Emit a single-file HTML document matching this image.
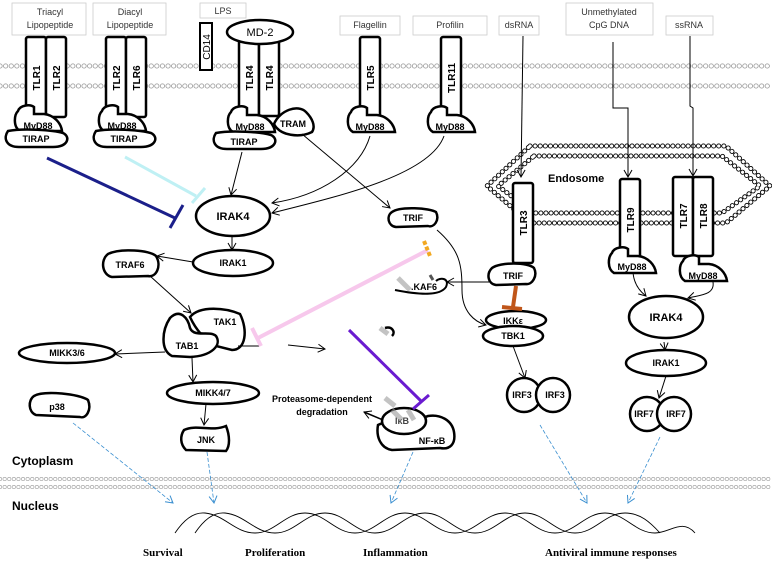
<!DOCTYPE html>
<html><head><meta charset="utf-8"><style>
html,body{margin:0;padding:0;background:#fff;}
svg{display:block;font-family:"Liberation Sans",sans-serif;}
.b{fill:#fff;stroke:#000;stroke-width:2.5;}
.t{font-size:9px;font-weight:bold;text-anchor:middle;}
.tl{font-size:10px;font-weight:bold;text-anchor:middle;}
.lg{font-size:9px;text-anchor:middle;fill:#333;}
.bx{fill:#fff;stroke:#ccc;stroke-width:0.8;}
.ln{fill:none;stroke:#000;stroke-width:1;}
.bl{fill:none;stroke:#3a8fd0;stroke-width:0.8;stroke-dasharray:4 2;}
</style></head><body>
<svg width="772" height="561" viewBox="0 0 772 561">
<defs>
<marker id="a" markerWidth="10" markerHeight="10" refX="8" refY="5" orient="auto" markerUnits="userSpaceOnUse"><path d="M1,1 L8,5 L1,9" fill="none" stroke="#000" stroke-width="1"/></marker>
<marker id="ab" markerWidth="10" markerHeight="10" refX="8" refY="5" orient="auto" markerUnits="userSpaceOnUse"><path d="M1,1 L8,5 L1,9" fill="none" stroke="#3a8fd0" stroke-width="1"/></marker>
<path id="myd" d="M8,28 C1,24 2,12 6,8 C8,2 18,1 22,4 L22,11 L32,11 C42,12 49,20 50,28 Z"/>
<path id="tir" d="M5,2 C20,-1 50,1 60,4 C68,8 65,18 50,18 L16,18 C3,18 0,9 5,2 Z"/>
</defs>

<!-- plasma membrane -->
<g stroke="#999" fill="none">
<line x1="0" y1="66" x2="772" y2="66" stroke-width="5" stroke-dasharray="0.1 5.5" stroke-linecap="round"/>
<line x1="0" y1="66" x2="772" y2="66" stroke="#fff" stroke-width="3.4" stroke-dasharray="0.1 5.5" stroke-linecap="round"/>
<line x1="0" y1="86" x2="772" y2="86" stroke-width="5" stroke-dasharray="0.1 5.5" stroke-linecap="round"/>
<line x1="0" y1="86" x2="772" y2="86" stroke="#fff" stroke-width="3.4" stroke-dasharray="0.1 5.5" stroke-linecap="round"/>
</g>
<!-- nuclear membrane -->
<g stroke="#aaa" fill="none">
<line x1="0" y1="479" x2="772" y2="479" stroke-width="4" stroke-dasharray="0.1 4.5" stroke-linecap="round"/>
<line x1="0" y1="479" x2="772" y2="479" stroke="#fff" stroke-width="2.6" stroke-dasharray="0.1 4.5" stroke-linecap="round"/>
<line x1="0" y1="487" x2="772" y2="487" stroke-width="4" stroke-dasharray="0.1 4.5" stroke-linecap="round"/>
<line x1="0" y1="487" x2="772" y2="487" stroke="#fff" stroke-width="2.6" stroke-dasharray="0.1 4.5" stroke-linecap="round"/>
</g>
<!-- endosome -->
<g fill="none" stroke-linecap="round">
<path d="M530,146 L726,146 L770,186 L726,223 L530,223 L487,186 Z" stroke="#000" stroke-width="5" stroke-dasharray="0.1 5"/>
<path d="M530,146 L726,146 L770,186 L726,223 L530,223 L487,186 Z" stroke="#fff" stroke-width="3.2" stroke-dasharray="0.1 5"/>
<path d="M534,156 L722,156 L760,186 L722,213 L534,213 L498,186 Z" stroke="#000" stroke-width="5" stroke-dasharray="0.1 5"/>
<path d="M534,156 L722,156 L760,186 L722,213 L534,213 L498,186 Z" stroke="#fff" stroke-width="3.2" stroke-dasharray="0.1 5"/>
</g>
<text x="548" y="182" style="font-size:11px;font-weight:bold">Endosome</text>

<!-- ligand boxes -->
<rect class="bx" x="12" y="3" width="74" height="32"/><text class="lg" x="50" y="15">Triacyl</text><text class="lg" x="50" y="28">Lipopeptide</text>
<rect class="bx" x="93" y="3" width="73" height="32"/><text class="lg" x="130" y="15">Diacyl</text><text class="lg" x="130" y="28">Lipopeptide</text>
<rect class="bx" x="200" y="3" width="46" height="15"/><text class="lg" x="223" y="14">LPS</text>
<rect class="bx" x="340" y="16" width="60" height="19"/><text class="lg" x="370" y="28">Flagellin</text>
<rect class="bx" x="413" y="16" width="74" height="19"/><text class="lg" x="450" y="28">Profilin</text>
<rect class="bx" x="499" y="16" width="40" height="19"/><text class="lg" x="519" y="28">dsRNA</text>
<rect class="bx" x="566" y="3" width="87" height="32"/><text class="lg" x="609" y="15">Unmethylated</text><text class="lg" x="609" y="28">CpG DNA</text>
<rect class="bx" x="666" y="16" width="47" height="19"/><text class="lg" x="689" y="28">ssRNA</text>

<!-- TLR1/2 -->
<rect class="b" x="26" y="37" width="20" height="80" rx="2"/><rect class="b" x="46" y="37" width="20" height="80" rx="2"/>
<text class="tl" transform="translate(40,78) rotate(-90)">TLR1</text><text class="tl" transform="translate(60,78) rotate(-90)">TLR2</text>
<use href="#myd" class="b" transform="translate(12,103)"/><text class="t" x="38" y="129">MyD88</text>
<use href="#tir" class="b" transform="translate(3,129)"/><text class="t" x="36" y="142">TIRAP</text>
<!-- TLR2/6 -->
<rect class="b" x="106" y="37" width="20" height="80" rx="2"/><rect class="b" x="126" y="37" width="20" height="80" rx="2"/>
<text class="tl" transform="translate(120,78) rotate(-90)">TLR2</text><text class="tl" transform="translate(140,78) rotate(-90)">TLR6</text>
<use href="#myd" class="b" transform="translate(96,103)"/><text class="t" x="122" y="129">MyD88</text>
<use href="#tir" class="b" transform="translate(91,129)"/><text class="t" x="124" y="142">TIRAP</text>
<!-- TLR4 -->
<rect class="b" x="200" y="23" width="12" height="47" style="stroke-width:2"/><text class="lg" transform="translate(210,47) rotate(-90)" style="font-size:10px;fill:#000">CD14</text>
<rect class="b" x="239" y="38" width="20" height="78" rx="2"/><rect class="b" x="259" y="38" width="20" height="78" rx="2"/>
<ellipse class="b" cx="260" cy="32" rx="33" ry="12"/><text x="260" y="36" style="font-size:11px;text-anchor:middle">MD-2</text>
<text class="tl" transform="translate(253,78) rotate(-90)">TLR4</text><text class="tl" transform="translate(273,78) rotate(-90)">TLR4</text>
<use href="#myd" class="b" transform="translate(225,104)"/><text class="t" x="250" y="130">MyD88</text>
<path class="b" d="M274,124 C280,110 298,104 306,112 C312,118 316,126 312,132 C300,138 280,136 274,124 Z"/><text class="t" x="293" y="127">TRAM</text>
<use href="#tir" class="b" transform="translate(211,131)"/><text class="t" x="244" y="145">TIRAP</text>
<!-- TLR5 -->
<rect class="b" x="360" y="37" width="20" height="80" rx="2"/><text class="tl" transform="translate(374,78) rotate(-90)">TLR5</text>
<use href="#myd" class="b" transform="translate(345,104)"/><text class="t" x="370" y="130">MyD88</text>
<!-- TLR11 -->
<rect class="b" x="441" y="37" width="20" height="80" rx="2"/><text class="tl" transform="translate(455,78) rotate(-90)">TLR11</text>
<use href="#myd" class="b" transform="translate(425,104)"/><text class="t" x="450" y="130">MyD88</text>

<!-- ligand arrows to endosome -->
<path class="ln" d="M523,36 L521,177" marker-end="url(#a)"/>
<path class="ln" d="M613,42 L613,108 L628,108 L628,177" marker-end="url(#a)"/>
<path class="ln" d="M690,36 L690,106 L693,108 L693,176" marker-end="url(#a)"/>

<!-- TLR3 -->
<rect class="b" x="513" y="183" width="20" height="80" rx="2"/><text class="tl" transform="translate(527,223) rotate(-90)">TLR3</text>
<path class="b" d="M492,268 C500,262 528,262 534,268 C538,276 532,285 526,284 L496,285 C488,284 486,274 492,268 Z"/><text class="t" x="513" y="279">TRIF</text>
<!-- TLR9 -->
<rect class="b" x="620" y="179" width="20" height="81" rx="2"/><text class="tl" transform="translate(634,220) rotate(-90)">TLR9</text>
<use href="#myd" class="b" transform="translate(606,245)"/><text class="t" x="632" y="270">MyD88</text>
<!-- TLR7/8 -->
<rect class="b" x="673" y="177" width="20" height="79" rx="2"/><rect class="b" x="693" y="177" width="20" height="79" rx="2"/>
<text class="tl" transform="translate(687,216) rotate(-90)">TLR7</text><text class="tl" transform="translate(707,216) rotate(-90)">TLR8</text>
<use href="#myd" class="b" transform="translate(677,253)"/><text class="t" x="703" y="279">MyD88</text>

<!-- left pathway -->
<ellipse class="b" cx="233" cy="216" rx="37" ry="20"/><text class="tl" x="233" y="220" style="font-size:11px">IRAK4</text>
<ellipse class="b" cx="233" cy="263" rx="40" ry="13"/><text class="t" x="233" y="266">IRAK1</text>
<path class="b" d="M108,254 C120,248 150,250 156,256 C162,266 156,278 148,276 L112,277 C102,275 100,260 108,254 Z"/><text class="t" x="130" y="268">TRAF6</text>
<path class="b" d="M190,317 C200,305 226,308 240,314 C248,330 246,350 232,350 L216,346 C205,340 196,330 190,317 Z"/>
<path class="b" d="M170,318 C180,308 188,318 190,328 C194,338 210,330 216,336 C222,345 212,356 190,357 L172,356 C160,350 162,330 170,318 Z"/>
<text class="t" x="225" y="325">TAK1</text><text class="t" x="187" y="349">TAB1</text>
<ellipse class="b" cx="67" cy="353" rx="48" ry="10"/><text class="t" x="67" y="356">MIKK3/6</text>
<ellipse class="b" cx="213" cy="393" rx="46" ry="11"/><text class="t" x="213" y="396">MIKK4/7</text>
<path class="b" d="M34,396 C44,390 80,394 88,400 C92,410 86,419 80,417 L36,415 C28,412 28,400 34,396 Z"/><text class="t" x="57" y="410">p38</text>
<path class="b" d="M184,430 C196,424 212,432 226,426 C230,436 230,446 226,451 L186,450 C180,444 180,436 184,430 Z"/><text class="t" x="206" y="443">JNK</text>
<path class="b" d="M392,212 C400,206 430,208 436,212 C440,220 434,228 428,226 L396,227 C388,226 386,216 392,212 Z"/><text class="t" x="413" y="221">TRIF</text>
<path class="b" d="M395,290 C420,295 440,296 446,287 C450,278 440,277 436,281" style="stroke-width:2"/><text class="t" x="424" y="290">.KAF6</text>
<path d="M398,278 L410,290" stroke="#888" stroke-width="5" opacity="0.5"/>
<path d="M430,275 L433,280" stroke="#555" stroke-width="3"/>
<path d="M385,328 C392,326 396,332 392,336" fill="none" stroke="#000" stroke-width="2.5"/>
<path d="M380,328 L388,334" stroke="#888" stroke-width="5" opacity="0.5"/>
<!-- NF-kB -->
<path class="b" d="M378,425 C392,418 420,420 428,416 C440,414 452,420 454,432 C456,444 450,450 440,448 L392,450 C380,448 376,436 378,425 Z"/>
<ellipse class="b" cx="404" cy="421" rx="22" ry="13"/>
<text class="t" x="402" y="424" style="fill:#444">IκB</text>
<path d="M392,410 L402,420 M408,410 L414,420" stroke="#999" stroke-width="5" opacity="0.6"/>
<text class="t" x="432" y="444">NF-κB</text>
<text x="322" y="402" style="font-size:9px;font-weight:bold;text-anchor:middle">Proteasome-dependent</text>
<text x="322" y="415" style="font-size:9px;font-weight:bold;text-anchor:middle">degradation</text>
<path d="M385,398 L395,406" stroke="#888" stroke-width="5" opacity="0.5"/>
<path d="M383,420 L364,412" fill="none" stroke="#000" stroke-width="1.5" marker-end="url(#a)"/>

<!-- right pathway -->
<ellipse class="b" cx="516" cy="320" rx="30" ry="9"/><text class="t" x="513" y="324">IKKε</text>
<ellipse class="b" cx="513" cy="336" rx="30" ry="10"/><text class="t" x="513" y="339">TBK1</text>
<circle class="b" cx="524" cy="395" r="17"/><circle class="b" cx="553" cy="395" r="17"/>
<text class="t" x="522" y="398">IRF3</text><text class="t" x="555" y="398">IRF3</text>
<ellipse class="b" cx="666" cy="317" rx="37" ry="21"/><text class="tl" x="666" y="321" style="font-size:11px">IRAK4</text>
<ellipse class="b" cx="666" cy="363" rx="40" ry="13"/><text class="t" x="666" y="366">IRAK1</text>
<circle class="b" cx="647" cy="414" r="17"/><circle class="b" cx="674" cy="414" r="17"/>
<text class="t" x="644" y="417">IRF7</text><text class="t" x="676" y="417">IRF7</text>

<!-- black arrows -->
<path class="ln" d="M242,152 L231,195" marker-end="url(#a)"/>
<path class="ln" d="M370,136 C360,170 320,196 272,203" marker-end="url(#a)"/>
<path class="ln" d="M444,136 C430,175 340,196 272,213" marker-end="url(#a)"/>
<path class="ln" d="M302,134 L390,208" marker-end="url(#a)"/>
<path class="ln" d="M232,236 L232,250" marker-end="url(#a)"/>
<path class="ln" d="M193,262 L157,256" marker-end="url(#a)"/>
<path class="ln" d="M150,276 L191,313" marker-end="url(#a)"/>
<path class="ln" d="M165,352 L115,354" marker-end="url(#a)"/>
<path class="ln" d="M192,358 L193,382" marker-end="url(#a)"/>
<path class="ln" d="M206,404 L204,425" marker-end="url(#a)"/>
<path class="ln" d="M238,346 L260,346"/>
<path class="ln" d="M288,345 L325,349" marker-end="url(#a)"/>
<path class="ln" d="M437,230 C460,250 462,265 462,290 C462,312 475,322 486,325" marker-end="url(#a)"/>
<path class="ln" d="M489,282 L447,282" marker-end="url(#a)"/>
<path class="ln" d="M513,346 L525,378" marker-end="url(#a)"/>
<path class="ln" d="M633,272 C634,288 645,295 646,296" marker-end="url(#a)"/>
<path class="ln" d="M713,282 C715,295 700,295 688,298" marker-end="url(#a)"/>
<path class="ln" d="M664,342 L665,350" marker-end="url(#a)"/>
<path class="ln" d="M666,376 L659,398" marker-end="url(#a)"/>

<!-- inhibitory lines -->
<path d="M47,158 L175,218" stroke="#1b1f8a" stroke-width="3" fill="none"/>
<path d="M170,228 L183,205" stroke="#1b1f8a" stroke-width="3"/>
<path d="M125,157 L196,196" stroke="#bff0f4" stroke-width="3" fill="none"/>
<path d="M192,203 L205,188" stroke="#bff0f4" stroke-width="3"/>
<path d="M428,250 L258,338" stroke="#f7c8ec" stroke-width="4" fill="none"/>
<path d="M252,328 L261,346" stroke="#f7c8ec" stroke-width="4"/>
<path d="M424,241 L430,256" stroke="#f2a820" stroke-width="4" stroke-dasharray="4 2"/>
<path d="M349,330 L421,401" stroke="#6a1bd0" stroke-width="3" fill="none"/>
<path d="M413,409 L429,395" stroke="#6a1bd0" stroke-width="3"/>
<path d="M516,286 L513,307" stroke="#c0561a" stroke-width="4"/>
<path d="M502,307 L522,309" stroke="#c0561a" stroke-width="4"/>

<!-- blue dashed arrows -->
<path class="bl" d="M73,423 L173,503" marker-end="url(#ab)"/>
<path class="bl" d="M207,452 L214,503" marker-end="url(#ab)"/>
<path class="bl" d="M413,452 L391,503" marker-end="url(#ab)"/>
<path class="bl" d="M540,425 L587,503" marker-end="url(#ab)"/>
<path class="bl" d="M660,437 L628,503" marker-end="url(#ab)"/>

<text x="12" y="465" style="font-size:12px;font-weight:bold">Cytoplasm</text>
<text x="12" y="510" style="font-size:12px;font-weight:bold">Nucleus</text>

<!-- DNA -->
<g fill="none" stroke="#000" stroke-width="0.9">
<path d="M175,533 C185,518 195,512 205,513 C225,515 235,533 255,533 C275,533 285,513 305,513 C325,513 335,533 355,533 C375,533 385,513 405,513 C425,513 435,533 455,533 C475,533 485,513 505,513 C525,513 535,533 555,533 C575,533 585,513 605,513 C625,513 635,533 655,533 C670,533 682,518 695,533"/>
<path d="M195,533 C205,518 215,512 225,513 C245,515 255,533 275,533 C295,533 305,513 325,513 C345,513 355,533 375,533 C395,533 405,513 425,513 C445,513 455,533 475,533 C495,533 505,513 525,513 C545,513 555,533 575,533 C595,533 605,513 625,513 C640,513 650,522 660,533"/>
</g>
<g style="font-family:'Liberation Serif',serif;font-size:11px;font-weight:bold">
<text x="143" y="556">Survival</text>
<text x="245" y="556">Proliferation</text>
<text x="363" y="556">Inflammation</text>
<text x="545" y="556">Antiviral immune responses</text>
</g>
</svg>
</body></html>
